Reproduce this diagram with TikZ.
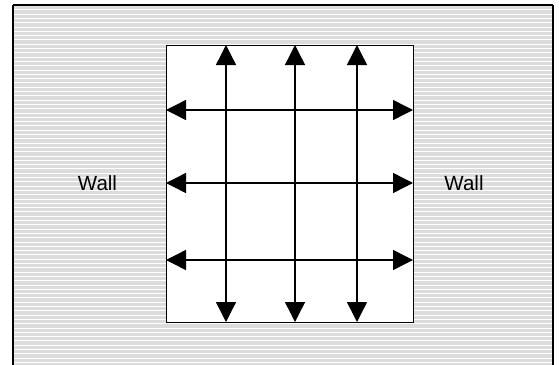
\documentclass[tikz,border=0pt]{standalone}
\usepackage{fontspec}
\setmainfont{Liberation Sans}
\usetikzlibrary{arrows.meta}
\definecolor{wallgray}{HTML}{DCDCDC}
\tikzset{
  arr/.style={line width=1.4pt,{Triangle[length=20pt,width=20pt]}-{Triangle[length=20pt,width=20pt]}},
  walllabel/.style={font=\fontsize{20.5}{24}\selectfont, inner sep=0pt}
}
\begin{document}
\begin{tikzpicture}[x=1pt,y=-1pt]
\useasboundingbox (0,0) rectangle (559,364);
\begin{scope}
\clip (0,0) rectangle (559,364);
% outer wall area
\fill[wallgray] (13,5) rectangle (553,370);
\foreach \i in {0,...,84} {
  \fill[white] (14,{9.3+4.3*\i}) rectangle (552,{10.3+4.3*\i});
}
\draw[line width=2pt] (13,5) -- (553,5);
\draw[line width=2pt] (13,5) -- (13,370);
\draw[line width=2pt] (553,5) -- (553,370);
\end{scope}
% room
\node[draw, line width=1.4pt, fill=white, minimum width=247pt, minimum height=277pt, inner sep=0pt, anchor=north west] (room) at (166,45) {};
% arrow end points
\coordinate (t1) at (226,45);  \coordinate (b1) at (226,322);
\coordinate (t2) at (295,45);  \coordinate (b2) at (295,322);
\coordinate (t3) at (357,45);  \coordinate (b3) at (357,322);
\coordinate (l1) at (166,110); \coordinate (r1) at (413,110);
\coordinate (l2) at (166,183); \coordinate (r2) at (413,183);
\coordinate (l3) at (166,260); \coordinate (r3) at (413,260);
\draw[arr] (t1) -- (b1);
\draw[arr] (t2) -- (b2);
\draw[arr] (t3) -- (b3);
\draw[arr] (l1) -- (r1);
\draw[arr] (l2) -- (r2);
\draw[arr] (l3) -- (r3);
\node[walllabel] (wl) at (97.5,183) {Wall};
\node[walllabel] (wr) at (464,183) {Wall};
\end{tikzpicture}
\end{document}
